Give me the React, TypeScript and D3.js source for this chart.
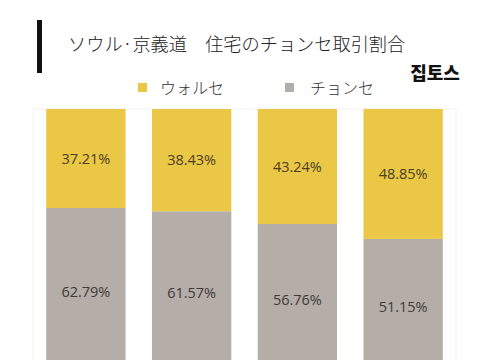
import * as d3 from 'd3';

// x-axis categories are cut off in the source picture, so these keys are not drawn
const periods = ['p1', 'p2', 'p3', 'p4'];
const wolseShare = [37.21, 38.43, 43.24, 48.85];
const jeonseShare = [62.79, 61.57, 56.76, 51.15];
const seriesNames = ['ウォルセ', 'チョンセ'];
const seriesColors = ['#EAC745', '#B5ADA8'];

const W = 485;
const H = 360;
const jp = '"Noto Sans CJK JP", "Noto Sans", sans-serif';

const App = () => {
    const x = d3.scaleBand<string>()
        .domain(periods)
        .range([33, 456])
        .paddingInner(0.25)
        .paddingOuter(0.125);

    // plot runs past the bottom of the frame, like the source
    const y = d3.scaleLinear().domain([0, 100]).range([375, 109]);

    const rows = periods.map((p, i) => ({period: p, wolse: wolseShare[i], jeonse: jeonseShare[i]}));
    const stacked = d3.stack<any>().keys(['jeonse', 'wolse'])(rows);
    const colorOf: Record<string, string> = {wolse: seriesColors[0], jeonse: seriesColors[1]};

    return (
        <svg width={W} height={H} style={{position: 'absolute', left: 0, top: 0, background: '#fff'}}>
            {/* faint plot frame */}
            <rect x={33} y={109} width={423} height={280} fill="none" stroke="#f3f3f3" strokeWidth={1}/>

            <rect x={37} y={20} width={5} height={53} fill="#111"/>
            <text x={68} y={51} fontFamily={jp} fontSize={18.2} fontWeight={300} fill="#222"
                  style={{whiteSpace: 'pre'}}>
                {'ソウル·京義道　住宅のチョンセ取引割合'}
            </text>

            <text x={435} y={80} textAnchor="middle" fontFamily='"Noto Sans CJK KR", sans-serif'
                  fontSize={18} fontWeight={900} fill="#111">집토스</text>

            {/* legend */}
            <rect x={138} y={83} width={9} height={9} fill={seriesColors[0]}/>
            <text x={160} y={94} fontFamily={jp} fontSize={16} fontWeight={300} fill="#333">{seriesNames[0]}</text>
            <rect x={285} y={83} width={9} height={9} fill={seriesColors[1]}/>
            <text x={310} y={94} fontFamily={jp} fontSize={16} fontWeight={300} fill="#333">{seriesNames[1]}</text>

            {stacked.map(layer => (
                <g key={layer.key}>
                    {layer.map((d, i) => (
                        <g key={i}>
                            <rect x={x(periods[i])} y={y(d[1])} width={x.bandwidth()}
                                  height={y(d[0]) - y(d[1])} fill={colorOf[layer.key]}/>
                            <text x={(x(periods[i]) as number) + x.bandwidth() / 2}
                                  y={(y(d[0]) + y(d[1])) / 2} dy="0.35em" textAnchor="middle"
                                  fontFamily='"Open Sans", "Noto Sans", sans-serif' fontSize={14.5}
                                  fill={layer.key === 'wolse' ? '#4a4026' : '#3e3a38'}>
                                {(d[1] - d[0]).toFixed(2)}%
                            </text>
                        </g>
                    ))}
                </g>
            ))}
        </svg>
    );
};

export default App;
